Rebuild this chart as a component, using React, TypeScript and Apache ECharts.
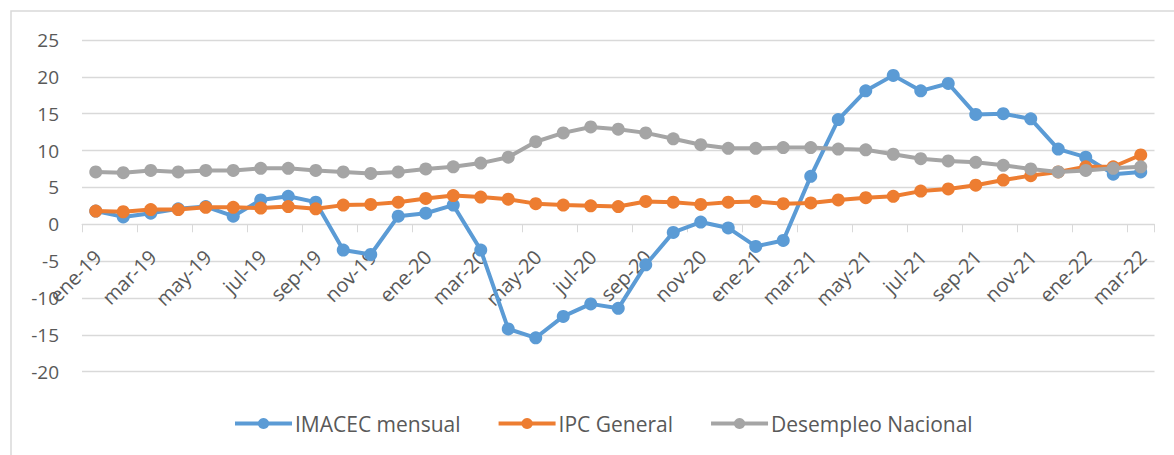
import React, { useEffect, useRef } from "react";
import * as echarts from "echarts";

const categories = [
  "ene-19", "feb-19", "mar-19", "abr-19", "may-19", "jun-19", "jul-19", "ago-19", "sep-19", "oct-19", "nov-19", "dic-19",
  "ene-20", "feb-20", "mar-20", "abr-20", "may-20", "jun-20", "jul-20", "ago-20", "sep-20", "oct-20", "nov-20", "dic-20",
  "ene-21", "feb-21", "mar-21", "abr-21", "may-21", "jun-21", "jul-21", "ago-21", "sep-21", "oct-21", "nov-21", "dic-21",
  "ene-22", "feb-22", "mar-22",
];

const imacec = [
  1.8, 1.0, 1.5, 2.1, 2.4, 1.1, 3.3, 3.8, 3.0, -3.5, -4.1, 1.1,
  1.5, 2.6, -3.5, -14.2, -15.4, -12.5, -10.8, -11.4, -5.5, -1.1, 0.3, -0.5,
  -3.0, -2.2, 6.5, 14.2, 18.1, 20.2, 18.1, 19.1, 14.9, 15.0, 14.3, 10.2,
  9.1, 6.8, 7.1,
];

const ipc = [
  1.8, 1.7, 2.0, 2.0, 2.3, 2.3, 2.2, 2.4, 2.1, 2.6, 2.7, 3.0,
  3.5, 3.9, 3.7, 3.4, 2.8, 2.6, 2.5, 2.4, 3.1, 3.0, 2.7, 3.0,
  3.1, 2.8, 2.9, 3.3, 3.6, 3.8, 4.5, 4.8, 5.3, 6.0, 6.6, 7.1,
  7.8, 7.8, 9.4,
];

const desempleo = [
  7.1, 7.0, 7.3, 7.1, 7.3, 7.3, 7.6, 7.6, 7.3, 7.1, 6.9, 7.1,
  7.5, 7.8, 8.3, 9.1, 11.2, 12.4, 13.2, 12.9, 12.4, 11.6, 10.8, 10.3,
  10.3, 10.4, 10.4, 10.2, 10.1, 9.5, 8.9, 8.6, 8.4, 8.0, 7.5, 7.1,
  7.3, 7.6, 7.8,
];

const yTicks = { min: -20, max: 25, interval: 5 };

const seriesNames = ["IMACEC mensual", "IPC General", "Desempleo Nacional"];
const seriesColors = ["#5B9BD5", "#ED7D31", "#A5A5A5"];

const FONT = "Open Sans";
const GRID = { left: 82, right: 19.5, top: 40, bottom: 83.3 };
const HEIGHT = 455;

export default function App() {
  const ref = useRef<HTMLDivElement>(null);

  useEffect(() => {
    if (!ref.current) return;
    const chart = echarts.init(ref.current, undefined, { renderer: "svg" });
    const datas = [imacec, ipc, desempleo];
    const plotH = HEIGHT - GRID.top - GRID.bottom;
    // move category axis up to the value 0 (axis crosses at zero)
    const zeroOffset = -(plotH * (0 - yTicks.min)) / (yTicks.max - yTicks.min);
    chart.setOption({
      animation: false,
      backgroundColor: "#ffffff",
      textStyle: { fontFamily: FONT },
      graphic: [
        {
          type: "rect",
          shape: { x: 11, y: 11, width: 1300, height: 600 },
          style: { fill: "none", stroke: "#D9D9D9", lineWidth: 1.5 },
          silent: true,
        },
      ],
      grid: { ...GRID, containLabel: false },
      legend: {
        bottom: 16,
        left: 228,
        itemWidth: 57,
        itemHeight: 14,
        itemGap: 36,
        lineStyle: { width: 4 },
        textStyle: { fontFamily: FONT, fontSize: 21, color: "#595959", padding: [0, 0, 0, -2] },
        data: seriesNames,
      },
      xAxis: {
        type: "category",
        data: categories,
        boundaryGap: true,
        position: "bottom",
        offset: zeroOffset,
        axisLine: { onZero: false, lineStyle: { color: "#D9D9D9", width: 1 } },
        axisTick: { show: true, interval: 1, length: 8, lineStyle: { color: "#D9D9D9" } },
        axisLabel: {
          interval: 1,
          rotate: 45,
          margin: 17,
          align: "right",
          verticalAlign: "top",
          padding: [0, 7, 0, 0],
          fontFamily: FONT,
          fontSize: 20,
          color: "#595959",
        },
        splitLine: { show: false },
      },
      yAxis: {
        type: "value",
        min: yTicks.min,
        max: yTicks.max,
        interval: yTicks.interval,
        axisLine: { show: false },
        axisTick: { show: false },
        axisLabel: { margin: 23, fontFamily: FONT, fontSize: 19, color: "#595959" },
        splitLine: { lineStyle: { color: "#D9D9D9", width: 1.3 } },
      },
      series: seriesNames.map((name, i) => ({
        name,
        type: "line",
        data: datas[i],
        symbol: "circle",
        symbolSize: 13,
        color: seriesColors[i],
        lineStyle: { width: 4, color: seriesColors[i] },
        itemStyle: { color: seriesColors[i] },
        z: 2 + i,
      })),
    });
    return () => chart.dispose();
  }, []);

  return (
    <div
      ref={ref}
      style={{ position: "absolute", left: 0, top: 0, width: 1174, height: HEIGHT }}
    />
  );
}
